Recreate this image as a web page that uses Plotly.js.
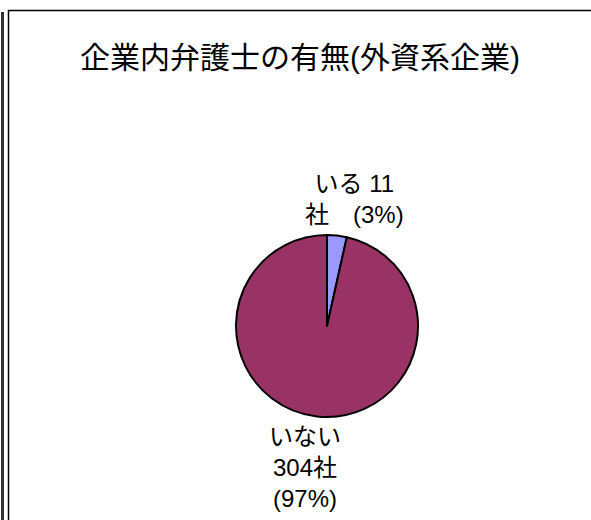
<!DOCTYPE html>
<html>
<head>
<meta charset="utf-8">
<script src="https://cdn.plot.ly/plotly-3.0.1.min.js"></script>
<style>
  html, body { margin: 0; padding: 0; background: #ffffff; }
  #chart { width: 591px; height: 520px; }
</style>
</head>
<body>
<div id="chart"></div>
<script>
const chartTitle = '企業内弁護士の有無(外資系企業)';
const categories = ['いる', 'いない'];
const counts = [11, 304];
const unit = '社';
const sliceColors = ['#9999FF', '#993366'];

const total = counts.reduce((a, b) => a + b, 0);
const pct = counts.map(v => Math.round(v / total * 100));

const FONT = 'Liberation Sans, Arial, "Noto Sans CJK JP", sans-serif';

const label0 = categories[0] + ' ' + counts[0] + '<br>' + unit + '\u3000(' + pct[0] + '%)';
const label1 = categories[1] + '<br>' + counts[1] + unit + '<br>(' + pct[1] + '%)';

const W = 591, H = 520;
const px = x => x / W;
const py = y => 1 - y / H;

const data = [{
  type: 'pie',
  labels: categories,
  values: counts,
  sort: false,
  direction: 'clockwise',
  rotation: 0,
  textinfo: 'none',
  hoverinfo: 'skip',
  showlegend: false,
  marker: { colors: sliceColors, line: { color: '#000000', width: 2 } },
  domain: { x: [px(236), px(418)], y: [py(417), py(235)] }
}];

const layout = {
  width: W, height: H,
  margin: { l: 0, r: 0, t: 0, b: 0 },
  paper_bgcolor: '#ffffff',
  plot_bgcolor: '#ffffff',
  font: { family: FONT, color: '#000000' },
  title: {
    text: chartTitle,
    font: { family: FONT, size: 30, color: '#000000' },
    xref: 'paper', yref: 'paper',
    x: px(300), y: py(57),
    xanchor: 'center', yanchor: 'middle'
  },
  shapes: [
    { type: 'line', xref: 'paper', yref: 'paper', x0: px(8), x1: px(591), y0: py(10.5), y1: py(10.5), line: { color: '#000', width: 1.5 } },
    { type: 'line', xref: 'paper', yref: 'paper', x0: px(8.5), x1: px(8.5), y0: py(10), y1: py(520), line: { color: '#000', width: 1.5 } },
    { type: 'line', xref: 'paper', yref: 'paper', x0: px(2.5), x1: px(2.5), y0: py(12), y1: py(520), line: { color: '#333', width: 3 } }
  ],
  annotations: [
    { text: label0, xref: 'paper', yref: 'paper', x: px(354), y: py(199), xanchor: 'center', yanchor: 'middle', showarrow: false, align: 'center', font: { family: FONT, size: 24, color: '#000' } },
    { text: label1, xref: 'paper', yref: 'paper', x: px(305), y: py(467), xanchor: 'center', yanchor: 'middle', showarrow: false, align: 'center', font: { family: FONT, size: 24, color: '#000' } }
  ]
};

Plotly.newPlot('chart', data, layout, { displayModeBar: false, staticPlot: true });
</script>
</body>
</html>
